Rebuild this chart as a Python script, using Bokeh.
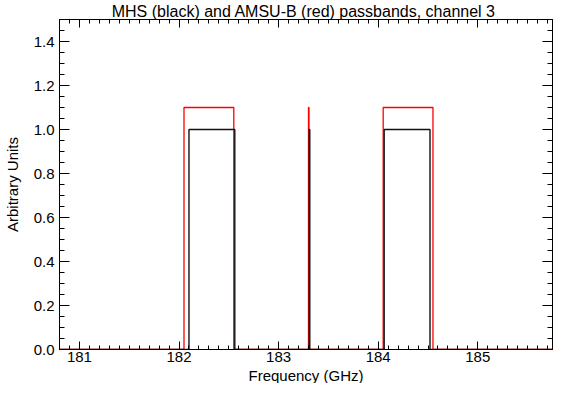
from bokeh.plotting import figure
from bokeh.models import (Range1d, LinearAxis, SingleIntervalTicker, PrintfTickFormatter, Title)
from bokeh.embed import file_html
from bokeh.resources import INLINE

# Passband edges (GHz)
mhs_lo = [182.10, 183.308, 184.06]
mhs_hi = [182.56, 183.313, 184.52]
mhs_level = 1.0
amsub_lo = [182.05, 183.300, 184.05]
amsub_hi = [182.55, 183.305, 184.55]
amsub_level = 1.1

x_start, x_end = 180.8, 185.75
y_start, y_end = 0.0, 1.5

title_text = "MHS (black) and AMSU-B (red) passbands, channel  3"
x_label = "Frequency (GHz)"
y_label = "Arbitrary Units"


def steps(lo, hi, level):
    xs, ys = [x_start], [0.0]
    for a, b in zip(lo, hi):
        xs += [a, a, b, b]
        ys += [0.0, level, level, 0.0]
    xs.append(x_end)
    ys.append(0.0)
    return xs, ys


FONT = "Liberation Sans"

p = figure(width=554, height=383, output_backend="svg", toolbar_location=None,
           x_range=Range1d(x_start, x_end), y_range=Range1d(y_start, y_end),
           x_axis_location=None, y_axis_location=None,
           min_border_left=55, min_border_right=2, min_border_top=0, min_border_bottom=0)
p.grid.visible = False
p.outline_line_color = "black"
p.background_fill_color = "white"
p.border_fill_color = "white"

p.title.text = title_text
p.title.text_font = FONT
p.title.text_font_size = "16px"
p.title.text_font_style = "normal"
p.title.text_color = "black"
p.title.align = "center"
p.title.standoff = 0
p.title.offset = 0

xt = SingleIntervalTicker(interval=1, num_minor_ticks=10)
yt = SingleIntervalTicker(interval=0.2, num_minor_ticks=4)


def style(ax, horiz, labels):
    ax.axis_line_color = "black"
    ax.major_tick_line_color = "black"
    ax.minor_tick_line_color = "black"
    ax.major_tick_out = 0
    ax.minor_tick_out = 0
    if horiz:
        ax.major_tick_in = 8
        ax.minor_tick_in = 4
    else:
        ax.major_tick_in = 10
        ax.minor_tick_in = 5
    ax.major_label_text_font = FONT
    ax.major_label_text_color = "black"
    ax.axis_label_text_font = FONT
    ax.axis_label_text_font_style = "normal"
    ax.axis_label_text_color = "black"
    ax.axis_label_text_font_size = "15px"
    if labels:
        ax.major_label_text_font_size = "15px"
    else:
        ax.major_label_text_font_size = "1px"
        ax.major_label_text_color = None
        ax.major_label_standoff = 0


xb = LinearAxis(ticker=xt, axis_label=None)
style(xb, True, True)
xb.major_label_standoff = 2
xb.axis_label_standoff = 0
p.add_layout(xb, "below")

xlab = Title(text=x_label, align="center", text_font=FONT, text_font_size="15px",
             text_font_style="normal", text_color="black", standoff=0, offset=0)
p.add_layout(xlab, "below")

xa = LinearAxis(ticker=xt)
style(xa, True, False)
p.add_layout(xa, "above")

yl = LinearAxis(ticker=yt, axis_label=y_label, formatter=PrintfTickFormatter(format="%.1f"))
style(yl, False, True)
yl.major_label_standoff = 5
yl.axis_label_standoff = 10
p.add_layout(yl, "left")

yr = LinearAxis(ticker=yt)
style(yr, False, False)
p.add_layout(yr, "right")

rx, ry = steps(amsub_lo, amsub_hi, amsub_level)
bx, by = steps(mhs_lo, mhs_hi, mhs_level)
p.line(rx, ry, line_color="#ff0000", line_width=1.3)
p.line(bx, by, line_color="#111111", line_width=1.4)

open("out.html", "w").write(file_html(p, INLINE))
